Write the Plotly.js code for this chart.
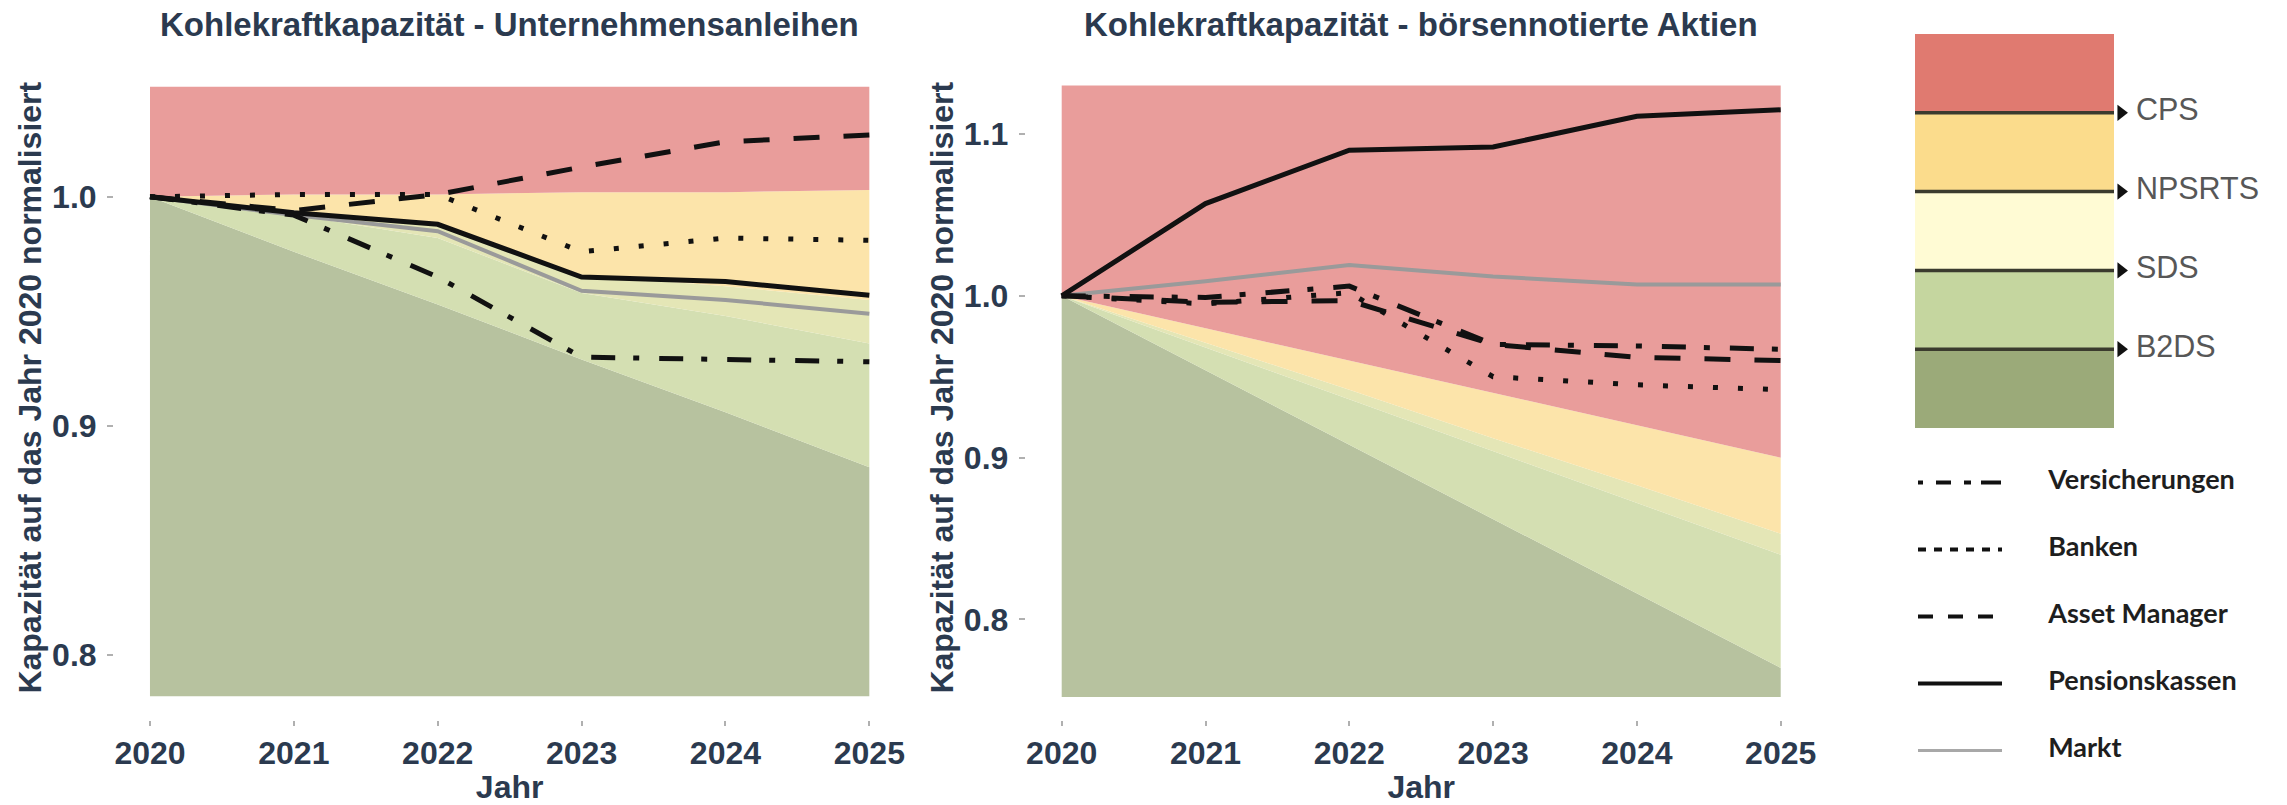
<!DOCTYPE html>
<html>
<head>
<meta charset="utf-8">
<script src="https://cdn.plot.ly/plotly-3.0.1.min.js"></script>
<style>
html,body{margin:0;padding:0;background:#ffffff;}
#chart{width:2287px;height:805px;}
</style>
</head>
<body>
<div id="chart"></div>
<script>
// ---------- categories / labels ----------
const years = [2020, 2021, 2022, 2023, 2024, 2025];
const yearLabels = ['2020', '2021', '2022', '2023', '2024', '2025'];
const panelTitles = ['Kohlekraftkapazität - Unternehmensanleihen', 'Kohlekraftkapazität - börsennotierte Aktien'];
const xTitle = 'Jahr';
const yTitle = 'Kapazität auf das Jahr 2020 normalisiert';
const scenarioNames = ['B2DS', 'SDS', 'NPSRTS', 'CPS'];
const seriesNames = ['Versicherungen', 'Banken', 'Asset Manager', 'Pensionskassen', 'Markt'];

// ---------- left panel: Unternehmensanleihen ----------
const floorBonds   = [0.782, 0.782, 0.782, 0.782, 0.782, 0.782];
const b2dsBonds    = [1.000, 0.976, 0.953, 0.929, 0.906, 0.882];
const sdsBonds     = [1.000, 0.992, 0.982, 0.958, 0.948, 0.936];
const npsrtsBonds  = [1.000, 0.994, 0.987, 0.966, 0.961, 0.955];
const cpsBonds     = [1.000, 1.001, 1.001, 1.002, 1.002, 1.003];
const ceilBonds    = [1.048, 1.048, 1.048, 1.048, 1.048, 1.048];

const versBonds    = [1.000, 0.992, 0.965, 0.930, 0.929, 0.928];
const bankBonds    = [1.000, 1.001, 1.001, 0.976, 0.982, 0.981];
const assetBonds   = [1.000, 0.994, 1.001, 1.013, 1.024, 1.027];
const pensBonds    = [1.000, 0.993, 0.988, 0.965, 0.963, 0.957];
const marktBonds   = [1.000, 0.992, 0.985, 0.959, 0.955, 0.949];

// ---------- right panel: börsennotierte Aktien ----------
const floorEquity  = [0.752, 0.752, 0.752, 0.752, 0.752, 0.752];
const b2dsEquity   = [1.000, 0.954, 0.908, 0.862, 0.816, 0.770];
const sdsEquity    = [1.000, 0.968, 0.936, 0.904, 0.872, 0.840];
const npsrtsEquity = [1.000, 0.971, 0.942, 0.912, 0.883, 0.853];
const cpsEquity    = [1.000, 0.980, 0.960, 0.940, 0.920, 0.900];
const ceilEquity   = [1.130, 1.130, 1.130, 1.130, 1.130, 1.130];

const versEquity   = [1.000, 0.999, 1.006, 0.970, 0.969, 0.967];
const bankEquity   = [1.000, 0.995, 1.002, 0.950, 0.945, 0.942];
const assetEquity  = [1.000, 0.996, 0.997, 0.970, 0.962, 0.960];
const pensEquity   = [1.000, 1.057, 1.090, 1.092, 1.111, 1.115];
const marktEquity  = [1.000, 1.009, 1.019, 1.012, 1.007, 1.007];

// ---------- legend helpers ----------
const scenarioBandBase = [0, 1, 2, 3, 4];
const scenarioBandHeight = [1, 1, 1, 1, 1];
const scenarioBoundary = [1, 2, 3, 4];
const legendRows = [0, 1, 2, 3, 4];

// ---------- styles ----------
const TXT = '#2b3a4f';
const bandColors = ['#b7c29f', '#d4dfb2', '#e4e6b6', '#fce4aa', '#e99d9b'];
const legendBandColors = ['#9baa79', '#c5d69f', '#fffbd4', '#fbdc8c', '#e07a70'];
const lineStyles = [
  {color: '#111111', width: 5, dash: '24px,18px,6px,20px'},
  {color: '#111111', width: 5, dash: '5px,20px'},
  {color: '#111111', width: 5, dash: '26px,24px'},
  {color: '#111111', width: 5, dash: 'solid'},
  {color: '#9a9a9a', width: 4, dash: 'solid'}
];
const legendDash = ['5px,13px,15px,13px,7px,10px,20px,10px', '8px,8px', '15px,15px', 'solid', 'solid'];
const legendLineColor = ['#111111', '#111111', '#111111', '#111111', '#a8a8a8'];
const legendLineWidth = [4, 4, 4, 4, 3];

const traces = [];

function addPanel(xa, ya, bands, series) {
  const [floor, b2ds, sds, npsrts, cps, ceil] = bands;
  traces.push({x: years, y: floor, xaxis: xa, yaxis: ya, type: 'scatter', mode: 'lines',
    line: {width: 0}, hoverinfo: 'skip', showlegend: false});
  [b2ds, sds, npsrts, cps, ceil].forEach((arr, i) => {
    traces.push({x: years, y: arr, xaxis: xa, yaxis: ya, type: 'scatter', mode: 'lines',
      line: {width: 0}, fill: 'tonexty', fillcolor: bandColors[i], hoverinfo: 'skip', showlegend: false});
  });
  const order = [4, 0, 1, 2, 3];
  order.forEach(i => {
    traces.push({x: years, y: series[i], xaxis: xa, yaxis: ya, type: 'scatter', mode: 'lines',
      name: seriesNames[i], line: lineStyles[i], hoverinfo: 'skip', showlegend: false});
  });
}

addPanel('x', 'y',
  [floorBonds, b2dsBonds, sdsBonds, npsrtsBonds, cpsBonds, ceilBonds],
  [versBonds, bankBonds, assetBonds, pensBonds, marktBonds]);
addPanel('x2', 'y2',
  [floorEquity, b2dsEquity, sdsEquity, npsrtsEquity, cpsEquity, ceilEquity],
  [versEquity, bankEquity, assetEquity, pensEquity, marktEquity]);

// scenario colour legend (stacked bands)
traces.push({type: 'bar', xaxis: 'x3', yaxis: 'y3', x: [0.5, 0.5, 0.5, 0.5, 0.5],
  y: scenarioBandHeight, base: scenarioBandBase, width: 1,
  marker: {color: legendBandColors, line: {width: 0}}, hoverinfo: 'skip', showlegend: false});
scenarioBoundary.forEach(b => {
  traces.push({type: 'scatter', mode: 'lines', xaxis: 'x3', yaxis: 'y3', x: [0, 1], y: [b, b],
    line: {color: '#3b3b2e', width: 3.5}, hoverinfo: 'skip', showlegend: false});
});
traces.push({type: 'scatter', mode: 'markers', xaxis: 'x3', yaxis: 'y3',
  x: scenarioBoundary.map(() => 1.035), y: scenarioBoundary,
  marker: {symbol: 'triangle-right', size: 14, color: '#111111'},
  hoverinfo: 'skip', showlegend: false});
traces.push({type: 'scatter', mode: 'text', xaxis: 'x3', yaxis: 'y3',
  x: scenarioBoundary.map(() => 1.11), y: scenarioBoundary, text: scenarioNames,
  textposition: 'middle right',
  textfont: {family: 'Liberation Sans, Arial, sans-serif', size: 30.5, color: '#575757'},
  hoverinfo: 'skip', showlegend: false});

// line legend
legendRows.forEach(r => {
  traces.push({type: 'scatter', mode: 'lines', xaxis: 'x4', yaxis: 'y4', x: [0, 1], y: [r, r],
    line: {color: legendLineColor[r], width: legendLineWidth[r], dash: legendDash[r]},
    hoverinfo: 'skip', showlegend: false});
});
traces.push({type: 'scatter', mode: 'text', xaxis: 'x4', yaxis: 'y4',
  x: legendRows.map(() => 1.55), y: legendRows, text: seriesNames,
  textposition: 'middle right',
  textfont: {family: 'Lato, sans-serif', size: 27, color: '#1e1e1e', weight: 'bold'},
  hoverinfo: 'skip', showlegend: false});

const W = 2287, H = 805;
const yDom = [1 - 720 / H, 1 - 55.4 / H];
const tickFont = {family: 'Liberation Sans, Arial, sans-serif', size: 32, color: TXT, weight: 'bold'};
const titleFont = {family: 'Liberation Sans, Arial, sans-serif', size: 32, color: TXT, weight: 'bold'};
const headFont = {family: 'Liberation Sans, Arial, sans-serif', size: 33, color: TXT, weight: 'bold'};

function xAxis(dom, anchor) {
  return {domain: dom, anchor: anchor, range: [2019.75, 2025.25], tickvals: years, ticktext: yearLabels,
    showgrid: false, zeroline: false, showline: false, ticks: 'outside', ticklen: 5, tickwidth: 2,
    tickcolor: '#b0b0b0', tickfont: tickFont, ticklabelstandoff: 0,
    title: {text: xTitle, font: titleFont, standoff: 11}, fixedrange: true};
}
function yAxis(range, anchor) {
  return {domain: yDom, anchor: anchor, range: range, dtick: 0.1, tick0: 0, tickformat: '.1f',
    showgrid: false, zeroline: false, showline: false, ticks: 'outside', ticklen: 6, tickwidth: 2,
    tickcolor: '#b0b0b0', tickfont: tickFont, ticklabelstandoff: 4,
    title: {text: yTitle, font: titleFont, standoff: 0}, fixedrange: true};
}
const hidden = (dom, range, anchor) => ({domain: dom, range: range, anchor: anchor, visible: false, fixedrange: true});

const layout = {
  width: W, height: H,
  margin: {l: 0, r: 0, t: 0, b: 0},
  paper_bgcolor: '#ffffff', plot_bgcolor: 'rgba(0,0,0,0)',
  showlegend: false,
  barmode: 'overlay',
  xaxis: xAxis([114.0 / W, 905.3 / W], 'y'),
  yaxis: yAxis([0.77167, 1.0617], 'x'),
  xaxis2: xAxis([1025.75 / W, 1816.65 / W], 'y2'),
  yaxis2: yAxis([0.73785, 1.1486], 'x2'),
  xaxis3: hidden([1915 / W, (1915 + 1.8 * 199) / W], [0, 1.8], 'y3'),
  yaxis3: hidden([1 - 428 / H, 1 - 34 / H], [0, 5], 'x3'),
  xaxis4: hidden([1918 / W, (1918 + 4 * 84) / W], [0, 4], 'y4'),
  yaxis4: hidden([1 - 784 / H, 1 - 449 / H], [4.5, -0.5], 'x4'),
  annotations: [
    {text: panelTitles[0], xref: 'paper', yref: 'paper', x: 509.7 / W, y: 1 - 25 / H,
      xanchor: 'center', yanchor: 'middle', showarrow: false, font: headFont},
    {text: panelTitles[1], xref: 'paper', yref: 'paper', x: 1421.2 / W, y: 1 - 25 / H,
      xanchor: 'center', yanchor: 'middle', showarrow: false, font: headFont}
  ]
};

Plotly.newPlot('chart', traces, layout, {displayModeBar: false, staticPlot: true});
</script>
</body>
</html>
